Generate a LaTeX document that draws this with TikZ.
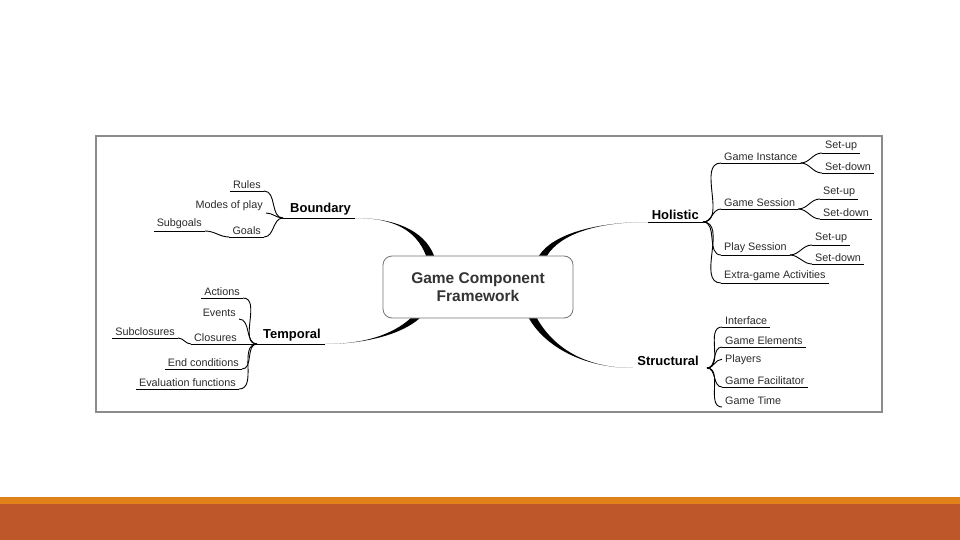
\documentclass[tikz,border=0pt]{standalone}
\usepackage{fontspec}
\setmainfont{Liberation Sans}
\usepackage{tikz}
\usetikzlibrary{positioning,calc}
\definecolor{bandlight}{HTML}{E0811A}
\definecolor{banddark}{HTML}{BE582B}
\definecolor{framegray}{HTML}{8C8C8C}
\definecolor{inkgray}{HTML}{2A2A2A}

\begin{document}
\begin{tikzpicture}[
    x=1pt, y=-1pt,
    core/.style  ={draw=black!55, line width=0.8pt, rounded corners=9pt, minimum width=190pt, minimum height=62pt,
                   align=center, font=\fontsize{15.5}{18}\selectfont\bfseries, text=black!80},
    topic/.style ={font=\fontsize{13}{15}\selectfont\bfseries, text=black, inner xsep=4pt, inner ysep=2.5pt},
    leaf/.style  ={font=\fontsize{10.8}{12}\selectfont, text=inkgray, inner xsep=3pt, inner ysep=2.5pt},
    twig/.style  ={draw=black, line width=0.9pt},
    uline/.style ={append after command={(\tikzlastnode.south west) edge[twig] (\tikzlastnode.south east)}},
  ]
  \useasboundingbox (0,0) rectangle (960,540);
  \draw[framegray, line width=1.3pt] (96,136) rectangle (882,412);
  \fill[bandlight] (0,497) rectangle (960,504);
  \fill[banddark] (0,504) rectangle (960,540);

  \node[core] (core) at (478,287) {Game Component\\Framework};
  \coordinate (bend) at ([xshift=-48pt]core.north);
  \coordinate (hend) at ([xshift= 65pt]core.north);
  \coordinate (tend) at ([xshift=-63pt]core.south);
  \coordinate (send) at ([xshift= 55pt]core.south);

  % Boundary
  \coordinate (jb) at (283,218);
  \node[topic, anchor=south west] (bound) at (286,218) {Boundary};
  \draw[twig] (jb) -- (bound.south east);
  \fill (bound.south east) .. controls +(38,0) and +(-10,-26) .. ([xshift=4pt]bend)
        -- ([xshift=-4pt]bend) .. controls +(-10,-26) and +(38,0) .. (bound.south east) -- cycle;
  \node[leaf, uline, anchor=south east] (rules) at (264,191) {Rules};
  \node[leaf, anchor=south east] (modes) at (266,213) {Modes of play};
  \node[leaf, uline, anchor=south east] (goals) at (264,237) {Goals};
  \node[leaf, uline, anchor=south east] (subgoals) at (205,231) {Subgoals};
  \draw[twig] (jb) to[out=180, in=0] (rules.south east);
  \draw[twig] (jb) to[out=180, in=0] (modes.south east);
  \draw[twig] (jb) to[out=180, in=0] (goals.south east);
  \draw[twig] (goals.south west) to[out=180, in=0] (subgoals.south east);

  % Holistic
  \coordinate (jh) at (703,222);
  \node[topic, anchor=south east] (hol) at (703,222) {Holistic};
  \draw[twig] (jh) -- (hol.south west);
  \fill (hol.south west) .. controls +(-50,0) and +(14,-22) .. ([xshift=4pt]hend)
        -- ([xshift=-4pt]hend) .. controls +(14,-22) and +(-50,0) .. (hol.south west) -- cycle;
  \node[leaf, uline, anchor=south west] (ginst) at (721,163) {Game Instance};
  \node[leaf, uline, anchor=south west] (gsess) at (721,209) {Game Session};
  \node[leaf, uline, anchor=south west] (psess) at (721,255) {Play Session};
  \node[leaf, uline, anchor=south west] (extra) at (721,283) {Extra-game Activities};
  \draw[twig] (jh) to[out=0, in=180] (ginst.south west);
  \draw[twig] (jh) to[out=0, in=180] (gsess.south west);
  \draw[twig] (jh) to[out=0, in=180] (psess.south west);
  \draw[twig] (jh) to[out=0, in=180] (extra.south west);
  \node[leaf, uline, anchor=south west] (gisetup) at (822,153) {Set-up};
  \node[leaf, uline, anchor=south west] (gisetdn) at (822,173) {Set-down};
  \node[leaf, uline, anchor=south west] (gssetup) at (820,199) {Set-up};
  \node[leaf, uline, anchor=south west] (gssetdn) at (820,219) {Set-down};
  \node[leaf, uline, anchor=south west] (pssetup) at (812,245) {Set-up};
  \node[leaf, uline, anchor=south west] (pssetdn) at (812,264) {Set-down};
  \draw[twig] (ginst.south east) to[out=0, in=180] (gisetup.south west);
  \draw[twig] (ginst.south east) to[out=0, in=180] (gisetdn.south west);
  \draw[twig] (gsess.south east) to[out=0, in=180] (gssetup.south west);
  \draw[twig] (gsess.south east) to[out=0, in=180] (gssetdn.south west);
  \draw[twig] (psess.south east) to[out=0, in=180] (pssetup.south west);
  \draw[twig] (psess.south east) to[out=0, in=180] (pssetdn.south west);

  % Temporal
  \coordinate (jt) at (257,344);
  \node[topic, anchor=south west] (temp) at (259,344) {Temporal};
  \draw[twig] (jt) -- (temp.south east);
  \fill (temp.south east) .. controls +(40,0) and +(-18,16) .. ([xshift=4.5pt]tend)
        -- ([xshift=-4.5pt]tend) .. controls +(-18,16) and +(40,0) .. (temp.south east) -- cycle;
  \node[leaf, uline, anchor=south east] (actions) at (243,298) {Actions};
  \node[leaf, anchor=south east] (events) at (239,319) {Events};
  \node[leaf, uline, anchor=south east] (closures) at (240,344) {Closures};
  \node[leaf, uline, anchor=south east] (subclos) at (178,338) {Subclosures};
  \node[leaf, uline, anchor=south east] (endcond) at (242,369) {End conditions};
  \node[leaf, uline, anchor=south east] (evalfn) at (239,389) {Evaluation functions};
  \draw[twig] (jt) to[out=180, in=0] (actions.south east);
  \draw[twig] (jt) to[out=180, in=0] (events.south east);
  \draw[twig] (jt) -- (closures.south east);
  \draw[twig] (jt) to[out=180, in=0] (endcond.south east);
  \draw[twig] (jt) to[out=180, in=0] (evalfn.south east);
  \draw[twig] (closures.south west) to[out=180, in=0] (subclos.south east);

  % Structural
  \coordinate (js) at (707,368);
  \node[topic, anchor=south east] (struct) at (703,368) {Structural};
  \fill (struct.south west) .. controls +(-50,0) and +(16,28) .. ([xshift=4pt]send)
        -- ([xshift=-4pt]send) .. controls +(16,28) and +(-50,0) .. (struct.south west) -- cycle;
  \node[leaf, uline, anchor=south west] (iface) at (722,327) {Interface};
  \node[leaf, uline, anchor=south west] (gelem) at (722,347) {Game Elements};
  \node[leaf, anchor=south west] (players) at (722,367) {Players};
  \node[leaf, uline, anchor=south west] (gfacil) at (722,387) {Game Facilitator};
  \node[leaf, anchor=south west] (gtime) at (722,407) {Game Time};
  \draw[twig] (js) to[out=0, in=180] (iface.south west);
  \draw[twig] (js) to[out=0, in=180] (gelem.south west);
  \draw[twig] (js) to[out=0, in=180] (players.west);
  \draw[twig] (js) to[out=0, in=180] (gfacil.south west);
  \draw[twig] (js) to[out=0, in=180] (gtime.south west);
\end{tikzpicture}
\end{document}
